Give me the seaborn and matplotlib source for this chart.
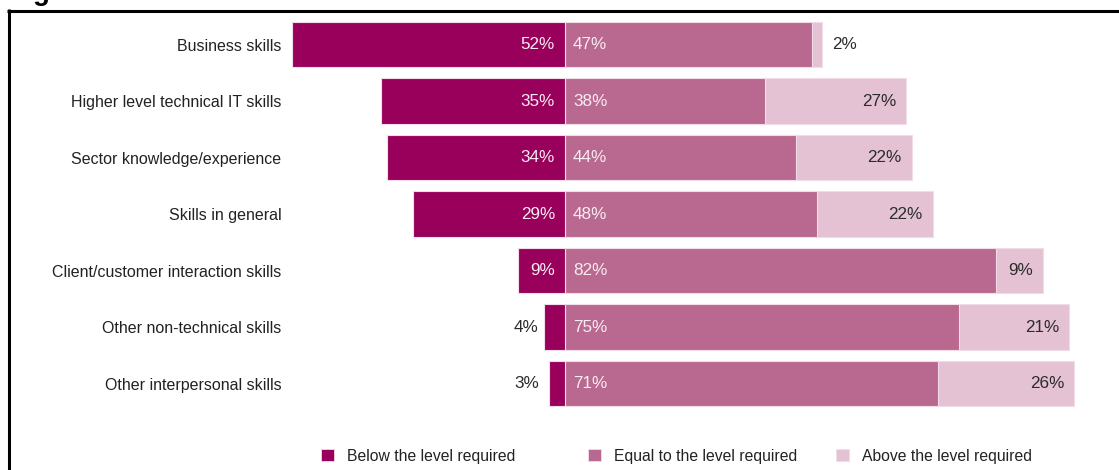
import matplotlib
matplotlib.use("Agg")
import matplotlib.pyplot as plt
from matplotlib.patches import Patch
from matplotlib.lines import Line2D
import numpy as np
import pandas as pd
import seaborn as sns

# Skill areas and the share of staff rated against the level required (%)
categories = [
    "Business skills",
    "Higher level technical IT skills",
    "Sector knowledge/experience",
    "Skills in general",
    "Client/customer interaction skills",
    "Other non-technical skills",
    "Other interpersonal skills",
]
below = [52, 35, 34, 29, 9, 4, 3]
equal = [47, 38, 44, 48, 82, 75, 71]
above = [2, 27, 22, 22, 9, 21, 26]

series_names = ["Below the level required", "Equal to the level required", "Above the level required"]
c_below = "#99005c"
c_equal = "#b9688f"
c_above = "#e4c2d4"
edge = "#f1dce7"
label_light = "#f8ecf2"
label_dark = "#2b2b2b"

sns.set_theme(style="white")
plt.rcParams["font.family"] = ["Liberation Sans", "DejaVu Sans"]

W, H = 1119, 470
fig = plt.figure(figsize=(W / 100, H / 100), dpi=100)
ax = fig.add_axes([0.25626, 0.1239, 0.71783, 0.8415])

df = pd.DataFrame({
    "skill": categories,
    "below": -np.array(below),
    "equal": np.array(equal),
    "positive": np.array(equal) + np.array(above),
})

# Diverging stacked bars: positive side drawn as a cumulative total, then overlaid
bar_kw = dict(y="skill", saturation=1, width=0.8, edgecolor=edge, linewidth=0.8, ax=ax)
sns.barplot(data=df, x="positive", color=c_above, **bar_kw)
sns.barplot(data=df, x="equal", color=c_equal, **bar_kw)
sns.barplot(data=df, x="below", color=c_below, **bar_kw)

ax.set_xlim(-53, 100)
ax.set_ylim(6.5, -0.5)
ax.set_xlabel("")
ax.set_ylabel("")
ax.set_xticks([])
for s in ax.spines.values():
    s.set_visible(False)
ax.tick_params(axis="y", length=0, pad=4, labelsize=11.5, labelcolor="#222222")

fs = 12.3
threshold = 5
px_per_unit = 5.25
for i in range(len(categories)):
    b, e, a = below[i], equal[i], above[i]
    # below segment (left of zero)
    if b >= threshold:
        ax.annotate(f"{b}%", (0, i), xytext=(-10, 0), textcoords="offset pixels",
                    ha="right", va="center", fontsize=fs, color=label_light)
    else:
        ax.annotate(f"{b}%", (-threshold, i), xytext=(0, 0), textcoords="offset pixels",
                    ha="right", va="center", fontsize=fs, color=label_dark)
    # equal segment
    ax.annotate(f"{e}%", (0, i), xytext=(8, 0), textcoords="offset pixels",
                ha="left", va="center", fontsize=fs, color=label_light)
    # above segment
    if a >= threshold:
        ax.annotate(f"{a}%", (e + a, i), xytext=(-10, 0), textcoords="offset pixels",
                    ha="right", va="center", fontsize=fs, color=label_dark)
    else:
        ax.annotate(f"{a}%", (e + a, i), xytext=(10, 0), textcoords="offset pixels",
                    ha="left", va="center", fontsize=fs, color=label_dark)

# One legend entry per series, set out along the bottom
colors = (c_below, c_equal, c_above)
legend_x = (321, 588, 836)
for name, col, lx in zip(series_names, colors, legend_x):
    fig.legend([Patch(facecolor=col, edgecolor=edge, linewidth=0.6)], [name],
               loc="center left", bbox_to_anchor=(lx / W, 1 - 456 / H),
               frameon=False, fontsize=11.3, handlelength=0.8, handleheight=0.8,
               handletextpad=0.85, borderpad=0, borderaxespad=0, labelcolor="#222222")

# Frame lines along the top and left edges of the panel
fig.add_artist(Line2D([8.5 / W, 8.5 / W], [0, 1 - 9 / H], color="black", lw=2.2,
                      solid_capstyle="butt", transform=fig.transFigure))
fig.add_artist(Line2D([7 / W, 1], [1 - 10.5 / H, 1 - 10.5 / H], color="black", lw=2.2,
                      solid_capstyle="butt", transform=fig.transFigure))
fig.text(33 / W, 1 - 0.5 / H, "g", fontsize=20, fontweight="bold", va="baseline", ha="left",
         color="black")

fig.savefig("out.png", dpi=100, facecolor="white")
